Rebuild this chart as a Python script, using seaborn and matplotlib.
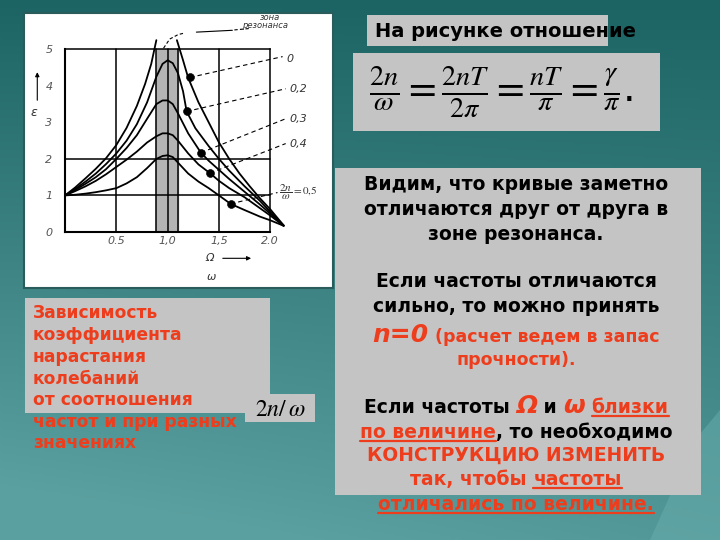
import numpy as np
import pandas as pd
import matplotlib
matplotlib.use("Agg")
import matplotlib.pyplot as plt
import seaborn as sns
from matplotlib.patches import Rectangle, Polygon

# ---------------- data ----------------
# curve 2n/w = 0 (two branches, going off the top)
x0_left = [0.0, 0.1, 0.2, 0.3, 0.4, 0.5, 0.6, 0.7, 0.78, 0.84, 0.89]
y0_left = [1.0, 1.22, 1.47, 1.73, 2.02, 2.38, 2.85, 3.45, 4.05, 4.6, 5.25]
x0_right = [1.09, 1.15, 1.2, 1.3, 1.4, 1.5, 1.6, 1.7, 1.8, 1.9, 2.0, 2.13]
y0_right = [5.25, 4.7, 4.22, 3.55, 3.0, 2.45, 2.0, 1.6, 1.25, 0.92, 0.62, 0.18]
# curve 0.2
x02 = [0.0, 0.1, 0.2, 0.3, 0.4, 0.5, 0.6, 0.7, 0.8, 0.89, 0.95, 1.0, 1.05, 1.1, 1.15, 1.185, 1.27, 1.4, 1.5, 1.6, 1.75, 1.9, 2.0, 2.13]
y02 = [1.0, 1.18, 1.38, 1.6, 1.86, 2.15, 2.5, 2.95, 3.55, 4.25, 4.6, 4.7, 4.62, 4.35, 3.85, 3.30, 2.84, 2.35, 2.0, 1.68, 1.25, 0.85, 0.55, 0.18]
# curve 0.3
x03 = [0.0, 0.1, 0.2, 0.3, 0.4, 0.5, 0.6, 0.7, 0.8, 0.89, 0.95, 1.0, 1.05, 1.1, 1.2, 1.324, 1.4, 1.5, 1.6, 1.75, 1.9, 2.0, 2.13]
y03 = [1.0, 1.15, 1.32, 1.5, 1.72, 2.0, 2.3, 2.65, 3.1, 3.5, 3.6, 3.6, 3.5, 3.25, 2.7, 2.17, 1.95, 1.7, 1.45, 1.1, 0.75, 0.5, 0.17]
# curve 0.4
x04 = [0.0, 0.1, 0.2, 0.3, 0.4, 0.5, 0.6, 0.7, 0.8, 0.89, 0.95, 1.0, 1.05, 1.1, 1.2, 1.3, 1.412, 1.5, 1.6, 1.75, 1.9, 2.0, 2.13]
y04 = [1.0, 1.12, 1.25, 1.4, 1.58, 1.78, 1.98, 2.2, 2.45, 2.62, 2.7, 2.7, 2.65, 2.5, 2.15, 1.85, 1.61, 1.4, 1.2, 0.95, 0.65, 0.45, 0.17]
# curve 0.5
x05 = [0.0, 0.1, 0.2, 0.3, 0.4, 0.5, 0.6, 0.7, 0.8, 0.89, 0.95, 1.0, 1.05, 1.1, 1.2, 1.3, 1.4, 1.5, 1.613, 1.75, 1.9, 2.0, 2.13]
y05 = [1.0, 1.02, 1.05, 1.09, 1.14, 1.2, 1.33, 1.5, 1.75, 2.0, 2.08, 2.1, 2.05, 1.9, 1.6, 1.38, 1.2, 1.0, 0.77, 0.6, 0.42, 0.32, 0.17]

# marked points and their labels
dot_x = [1.217, 1.185, 1.324, 1.412, 1.613]
dot_y = [4.23, 3.30, 2.17, 1.61, 0.77]
lab_end_x = [2.12, 2.15, 2.15, 2.15, 2.07]
lab_end_y = [4.80, 3.92, 3.10, 2.42, 1.08]
curve_labels = ["0", "0,2", "0,3", "0,4", r"$\dfrac{2n}{\omega}=0{,}5$"]
lab_x = [2.16, 2.19, 2.19, 2.19, 2.08]
lab_y = [4.74, 3.92, 3.10, 2.40, 1.10]

yticks = [0, 1, 2, 3, 4, 5]
ytick_labels = ["0", "1", "2", "3", "4", "5"]
xticks = [0.5, 1.0, 1.5, 2.0]
xtick_labels = ["0.5", "1,0", "1,5", "2.0"]
zone = (0.89, 1.10)

# ---------------- figure ----------------
sns.set_theme(style="white")
plt.rcParams["font.family"] = ["DejaVu Sans"]
plt.rcParams["mathtext.fontset"] = "stix"

fig = plt.figure(figsize=(7.2, 5.4), dpi=100)
bg = fig.add_axes([0, 0, 1, 1])
# teal gradient
ny, nx = 270, 360
yy, xx = np.mgrid[0:1:ny * 1j, 0:1:nx * 1j]
top = np.array([0.11, 0.39, 0.39])
bot = np.array([0.36, 0.63, 0.63])
t = np.clip(yy * 0.85 + (1 - xx) * yy * 0.25, 0, 1)[..., None]
img = top * (1 - t) + bot * t
bg.imshow(img, extent=[0, 720, 540, 0], aspect="auto", zorder=0)
bg.add_patch(Polygon([[650, 540], [695, 440], [720, 410], [720, 540]],
                     closed=True, fc="#6aaeae", ec="none", alpha=0.5, zorder=0.5))
bg.set_xlim(0, 720)
bg.set_ylim(540, 0)
bg.axis("off")

# white chart panel
bg.add_patch(Rectangle((24, 13), 309, 275, fc="white", ec="#2b5c5c", lw=1.5, zorder=1))

GRAY = "#c4c4c4"
RED = "#ee3d1c"
# right boxes
bg.add_patch(Rectangle((367, 15), 241, 31, fc=GRAY, ec="none", zorder=1))
bg.text(375, 37, "На рисунке отношение", fontsize=14, fontweight="bold",
        color="black", ha="left", va="baseline", zorder=3)
bg.add_patch(Rectangle((353, 53), 307, 78, fc=GRAY, ec="none", zorder=1))
bg.text(501, 92, r"$\frac{2n}{\omega}=\frac{2nT}{2\pi}=\frac{nT}{\pi}=\frac{\gamma}{\pi}$.",
        fontsize=29, color="black", ha="center", va="center", zorder=3)
bg.add_patch(Rectangle((335, 168), 366, 327, fc=GRAY, ec="none", zorder=1))

# left box
bg.add_patch(Rectangle((25, 298), 245, 115, fc=GRAY, ec="none", zorder=1))
bg.add_patch(Rectangle((245, 394), 70, 28, fc=GRAY, ec="none", zorder=1))
bg.text(280, 409, r"$2n/\,\omega$", fontsize=17, color="black", ha="center",
        va="center", zorder=3)
left_lines = ["Зависимость", "коэффициента", "нарастания", "колебаний",
              "от соотношения", "частот и при разных", "значениях"]
left_y = [318, 340, 362, 384, 405, 427, 448]
for s, y in zip(left_lines, left_y):
    bg.text(33, y, s, fontsize=12.3, fontweight="bold", color=RED,
            ha="left", va="baseline", zorder=3)

renderer = fig.canvas.get_renderer()


def mixed(pieces, y, cx=516):
    objs = []
    for s, col, size, style, ul in pieces:
        tt = bg.text(0, y, s, color=col, fontsize=size, fontweight="bold",
                     style=style, ha="left", va="baseline", zorder=3)
        objs.append((tt, col, ul))
    widths = [o[0].get_window_extent(renderer).width for o in objs]
    x = cx - sum(widths) / 2
    for (tt, col, ul), w in zip(objs, widths):
        tt.set_x(x)
        if ul:
            bg.plot([x, x + w], [y + 3, y + 3], color=col, lw=1.6, zorder=3)
        x += w


B = "black"
N = "normal"
fs = 13.5
mixed([("Видим, что кривые заметно", B, fs, N, False)], 190)
mixed([("отличаются друг от друга в", B, fs, N, False)], 215)
mixed([("зоне резонанса.", B, fs, N, False)], 240)
mixed([("Если частоты отличаются", B, fs, N, False)], 287)
mixed([("сильно, то можно принять", B, fs, N, False)], 312)
mixed([("n=0", RED, 18, "italic", False), (" (расчет ведем в запас", RED, 12.5, N, False)], 342)
mixed([("прочности).", RED, 12.5, N, False)], 365)
mixed([("Если частоты ", B, fs, N, False), ("Ω", RED, 18, "italic", False),
       (" и ", B, fs, N, False), ("ω", RED, 18, "italic", False),
       (" ", RED, fs, N, False), ("близки", RED, fs, N, True)], 413)
mixed([("по величине", RED, fs, N, True), (", то необходимо", B, fs, N, False)], 438)
mixed([("КОНСТРУКЦИЮ ИЗМЕНИТЬ", RED, fs, N, False)], 461)
mixed([("так, чтобы ", RED, fs, N, False), ("частоты", RED, fs, N, True)], 485)
mixed([("отличались по величине.", RED, fs, N, True)], 510)

# ---------------- chart ----------------
ax = fig.add_axes([65 / 720, 1 - 232 / 540, (270.3 - 65) / 720, (232 - 49.3) / 540])
ax.set_facecolor("white")
ax.set_xlim(0, 2)
ax.set_ylim(0, 5)
ax.axvspan(zone[0], zone[1], color="#b4b4b4", zorder=0.5)
for v in zone:
    ax.axvline(v, color="black", lw=1.1, zorder=1)
for v in [0.5, 1.0, 1.5]:
    ax.axvline(v, color="black", lw=1.1, zorder=1)
for v in [1, 2]:
    ax.axhline(v, color="black", lw=1.1, zorder=1)

frames = []
for name, xs, ys in [("0L", x0_left, y0_left), ("0R", x0_right, y0_right),
                     ("0.2", x02, y02), ("0.3", x03, y03),
                     ("0.4", x04, y04), ("0.5", x05, y05)]:
    frames.append(pd.DataFrame({"x": xs, "y": ys, "seg": name}))
df = pd.concat(frames, ignore_index=True)
sns.lineplot(data=df, x="x", y="y", units="seg", estimator=None, sort=False,
             color="black", lw=1.3, ax=ax, legend=False, zorder=3)
for ln in ax.lines:
    ln.set_clip_on(False)

# leader lines
for dx, dy, ex, ey in zip(dot_x, dot_y, lab_end_x, lab_end_y):
    ax.plot([dx, ex], [dy, ey], color="black", lw=0.8, ls=(0, (4, 3)),
            clip_on=False, zorder=3)
sns.scatterplot(x=dot_x, y=dot_y, color="black", s=32, ax=ax, zorder=4,
                edgecolor="black", legend=False)
for i, (s, lx, ly) in enumerate(zip(curve_labels, lab_x, lab_y)):
    ax.text(lx, ly, s, fontsize=8, style="italic", color="#333333",
            ha="left", va="center", clip_on=False)

# resonance-zone label
ax.plot([0.96, 1.02, 1.1, 1.17], [5.03, 5.28, 5.4, 5.45], color="black",
        lw=0.8, ls=(0, (3, 2)), clip_on=False)
ax.plot([1.28, 1.63], [5.47, 5.52], color="black", lw=0.8, clip_on=False)
ax.plot([1.65, 1.8], [5.53, 5.57], color="black", lw=0.8, ls=(0, (3, 2)), clip_on=False)
ax.text(2.0, 5.86, "зона", fontsize=6, style="italic", color="#333333",
        ha="center", va="center", clip_on=False)
ax.text(1.95, 5.64, "резонанса", fontsize=6, style="italic", color="#333333",
        ha="center", va="center", clip_on=False)

# axis symbols
ax.annotate("", xy=(-0.27, 4.45), xytext=(-0.27, 3.53),
            arrowprops=dict(arrowstyle="-|>", color="black", lw=0.8, mutation_scale=6),
            annotation_clip=False)
ax.text(-0.3, 3.28, "ε", fontsize=9, style="italic", color="#333333",
        ha="center", va="center", clip_on=False)
ax.annotate("", xy=(1.84, -0.72), xytext=(1.51, -0.72),
            arrowprops=dict(arrowstyle="-|>", color="black", lw=0.8, mutation_scale=6),
            annotation_clip=False)
ax.text(1.41, -0.72, "Ω", fontsize=8, style="italic", color="#333333",
        ha="center", va="center", clip_on=False)
ax.text(1.43, -1.22, "ω", fontsize=8, style="italic", color="#333333",
        ha="center", va="center", clip_on=False)

ax.set_xticks(xticks)
ax.set_xticklabels(xtick_labels, fontsize=8, style="italic", color="#555555")
ax.set_yticks(yticks)
ax.set_yticklabels(ytick_labels, fontsize=8, style="italic", color="#555555")
ax.tick_params(length=0, pad=9, axis="y")
ax.tick_params(length=0, pad=3, axis="x")
ax.set_xlabel("")
ax.set_ylabel("")
for sp in ax.spines.values():
    sp.set_visible(True)
    sp.set_color("black")
    sp.set_linewidth(1.5)
ax.spines["right"].set_linewidth(1.1)
ax.spines["top"].set_linewidth(1.1)

fig.savefig("out.png", dpi=100)
